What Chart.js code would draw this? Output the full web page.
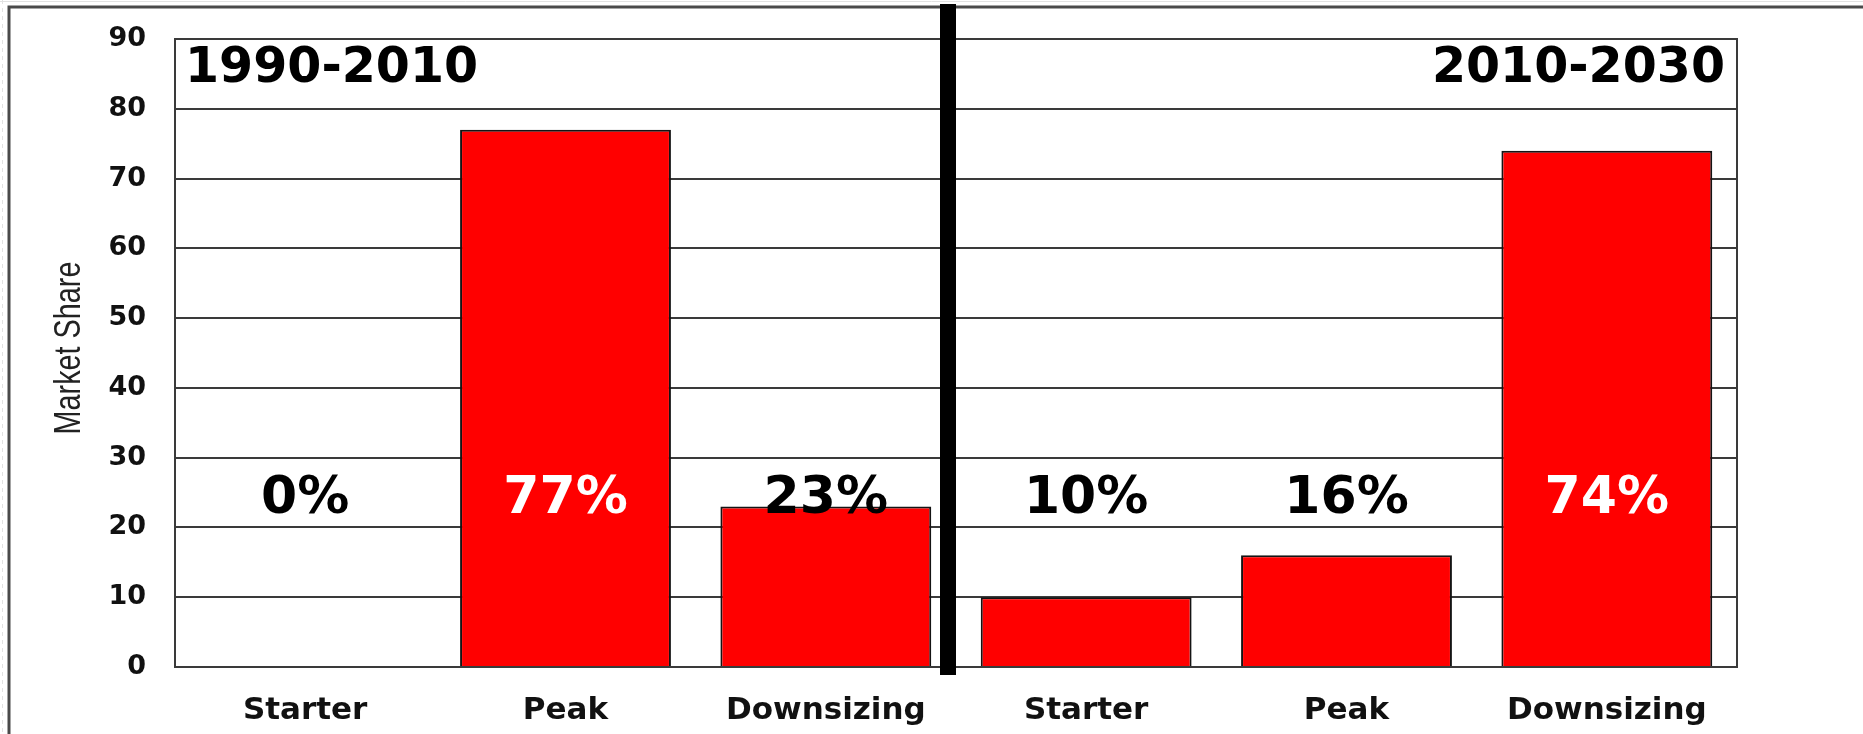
<!DOCTYPE html>
<html>
<head>
<meta charset="utf-8">
<title>Market Share</title>
<script src="https://cdn.jsdelivr.net/npm/chart.js@4/dist/chart.umd.min.js"></script>
<style>
  html, body { margin: 0; padding: 0; background: #fff; }
  #wrap { position: relative; width: 1863px; height: 734px; }
</style>
</head>
<body>
<div id="wrap"><canvas id="shareChart" width="1863" height="734"></canvas></div>
<script>
/* ── Data ── */
const categories   = ['Starter', 'Peak', 'Downsizing', 'Starter', 'Peak', 'Downsizing'];
const shareValues  = [0, 77, 23, 10, 16, 74];
const periodLabels = ['1990-2010', '2010-2030'];
const axisTitle    = 'Market Share';
const splitAfter   = 3;            // first period covers the first three categories
const yMin = 0, yMax = 90, yStep = 10;
const labelLevel   = 22;           // baseline of the % labels, in axis units

/* ── Styles ── */
const BOLD  = "'DejaVu Sans', Verdana, sans-serif";
const THIN  = "'Liberation Sans', Arial, sans-serif";
const GRID  = '#3a3a3a';

/* ── Frame, divider and text overlays ── */
const overlay = {
  id: 'overlay',
  beforeDraw(chart) {
    const { ctx, width, height } = chart;
    ctx.save();
    // faint page edge
    ctx.strokeStyle = '#e2e2e2';
    ctx.lineWidth = 1;
    ctx.beginPath();
    ctx.moveTo(0, 1.5); ctx.lineTo(width, 1.5);
    ctx.stroke();
    ctx.setLineDash([4, 4]);
    ctx.beginPath();
    ctx.moveTo(2.5, 0); ctx.lineTo(2.5, height);
    ctx.stroke();
    ctx.setLineDash([]);
    // outer box
    ctx.strokeStyle = '#4a4a4a';
    ctx.lineWidth = 3;
    ctx.beginPath();
    ctx.moveTo(9, height); ctx.lineTo(9, 7); ctx.lineTo(width, 7);
    ctx.stroke();
    ctx.restore();
  },
  afterDatasetsDraw(chart) {
    const { ctx, chartArea: a, scales: { x, y } } = chart;
    ctx.save();

    // plot frame
    ctx.strokeStyle = GRID;
    ctx.lineWidth = 2;
    ctx.strokeRect(a.left, a.top, a.right - a.left, a.bottom - a.top);

    // y axis title, narrow face
    ctx.save();
    ctx.translate(70, (a.top + a.bottom) / 2 - 5);
    ctx.rotate(-Math.PI / 2);
    ctx.scale(0.8, 1);
    ctx.font = `36px ${THIN}`;
    ctx.fillStyle = '#222';
    ctx.textAlign = 'center';
    ctx.textBaseline = 'middle';
    ctx.fillText(axisTitle, 0, 0);
    ctx.restore();

    // period divider
    const splitX = (x.getPixelForValue(splitAfter - 1) + x.getPixelForValue(splitAfter)) / 2;
    ctx.fillStyle = '#000';
    ctx.fillRect(splitX - 16, 4, 16, a.bottom + 8 - 4);

    // period titles
    ctx.font = `bold 49px ${BOLD}`;
    ctx.textBaseline = 'alphabetic';
    ctx.textAlign = 'left';
    ctx.fillText(periodLabels[0], a.left + 10, a.top + 43);
    ctx.textAlign = 'right';
    ctx.fillText(periodLabels[1], a.right - 12, a.top + 43);

    // share labels, white where they sit on a bar
    ctx.font = `bold 52px ${BOLD}`;
    const base = y.getPixelForValue(labelLevel);
    ctx.textAlign = 'center';
    shareValues.forEach((v, i) => {
      ctx.fillStyle = v > labelLevel + 8 ? '#fff' : '#000';
      ctx.fillText(v + '%', x.getPixelForValue(i), base);
    });

    ctx.restore();
  }
};

new Chart(document.getElementById('shareChart'), {
  type: 'bar',
  data: {
    labels: categories,
    datasets: [{
      data: shareValues,
      backgroundColor: '#ff0000',
      borderColor: '#141414',
      borderWidth: 2,
      borderSkipped: 'start',
      categoryPercentage: 1,
      barPercentage: 0.81
    }]
  },
  options: {
    responsive: false,
    animation: false,
    devicePixelRatio: 1,
    layout: { padding: { left: 0, top: 39, right: 126, bottom: 0 } },
    plugins: {
      legend: { display: false },
      tooltip: { enabled: false }
    },
    scales: {
      x: {
        grid: { display: false, drawTicks: false },
        border: { display: true, color: GRID, width: 2 },
        ticks: {
          color: '#111',
          padding: 25,
          maxRotation: 0,
          font: { size: 31, weight: 'bold', family: BOLD }
        },
        afterFit: s => { s.height = 67; }
      },
      y: {
        min: yMin,
        max: yMax,
        // invisible tick marks keep the labels off the axis without
        // inflating the scale's top padding
        grid: { color: GRID, lineWidth: 2, drawTicks: true, tickLength: 25, tickColor: 'rgba(0,0,0,0)' },
        border: { display: true, color: GRID, width: 2 },
        ticks: {
          stepSize: yStep,
          color: '#111',
          padding: 4,
          font: { size: 27, weight: 'bold', family: BOLD }
        },
        afterFit: s => { s.width = 175; }
      }
    }
  },
  plugins: [overlay]
});
</script>
</body>
</html>
